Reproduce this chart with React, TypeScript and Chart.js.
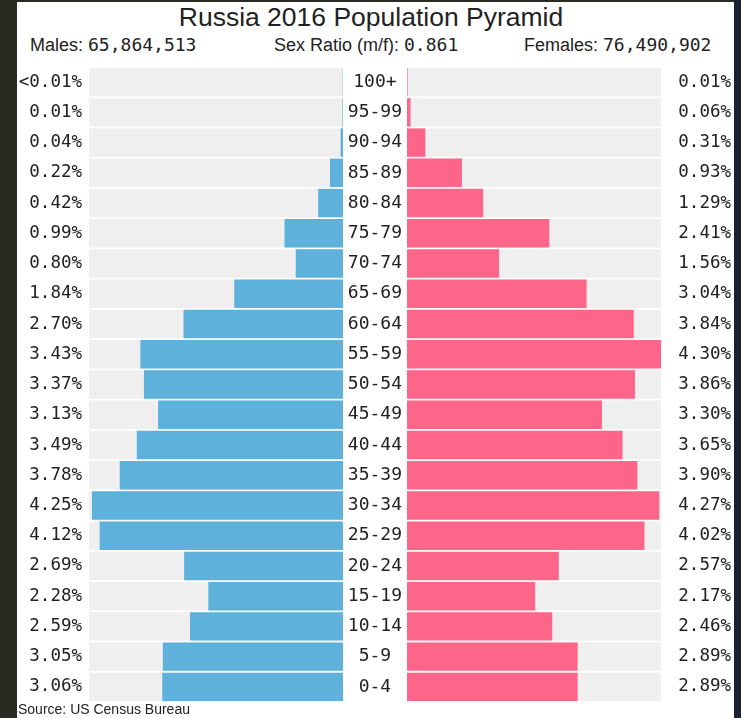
import React, { useEffect, useRef } from "react";
import { Chart, registerables } from "chart.js";

Chart.register(...registerables);

const ageGroups = ["100+", "95-99", "90-94", "85-89", "80-84", "75-79", "70-74", "65-69", "60-64", "55-59", "50-54", "45-49", "40-44", "35-39", "30-34", "25-29", "20-24", "15-19", "10-14", "5-9", "0-4"];
const malePct = [0.004, 0.01, 0.04, 0.22, 0.42, 0.99, 0.8, 1.84, 2.7, 3.43, 3.37, 3.13, 3.49, 3.78, 4.25, 4.12, 2.69, 2.28, 2.59, 3.05, 3.06];
const femalePct = [0.01, 0.06, 0.31, 0.93, 1.29, 2.41, 1.56, 3.04, 3.84, 4.3, 3.86, 3.3, 3.65, 3.9, 4.27, 4.02, 2.57, 2.17, 2.46, 2.89, 2.89];
const axisMaxPct = 4.3;
const malesTotal = "65,864,513";
const femalesTotal = "76,490,902";
const sexRatio = "0.861";

const fmt = (v: number) => (v < 0.01 ? "<0.01%" : v.toFixed(2) + "%");
const maleLabels = malePct.map(fmt);
const femaleLabels = femalePct.map(fmt);

const MONO = "'DejaVu Sans Mono', monospace";
const SANS = "'Liberation Sans', Arial, sans-serif";
const BLUE = "#5db1da";
const PINK = "#fe6689";
const TRACK = "#efefef";
const TEXT = "#222222";

const trackPlugin = {
  id: "track",
  beforeDatasetsDraw(chart: any) {
    const { ctx, chartArea } = chart;
    const meta = chart.getDatasetMeta(0);
    ctx.save();
    ctx.fillStyle = TRACK;
    meta.data.forEach((bar: any) => {
      const { y, height } = bar.getProps(["y", "height"], true);
      ctx.fillRect(chartArea.left, y - height / 2, chartArea.right - chartArea.left, height);
    });
    ctx.restore();
  },
};

const tickFont = { family: MONO, size: 17.5 };

const fitWidth = (w: number) => (s: any) => {
  s.width = w;
  s.paddingTop = 0;
  s.paddingBottom = 0;
};

export default function App() {
  const leftRef = useRef<HTMLCanvasElement>(null);
  const rightRef = useRef<HTMLCanvasElement>(null);

  useEffect(() => {
    const common: any = {
      animation: false,
      responsive: false,
      maintainAspectRatio: false,
      indexAxis: "y",
      layout: { padding: 0 },
      plugins: { legend: { display: false }, tooltip: { enabled: false } },
    };

    const left = new Chart(leftRef.current!, {
      type: "bar",
      data: {
        labels: ageGroups,
        datasets: [
          {
            data: malePct,
            backgroundColor: BLUE,
            borderWidth: 0,
            barPercentage: 0.94,
            categoryPercentage: 1,
          },
        ],
      },
      options: {
        ...common,
        scales: {
          x: { min: 0, max: axisMaxPct, reverse: true, display: false },
          y: {
            type: "category",
            position: "left",
            grid: { display: false, drawTicks: false },
            border: { display: false },
            ticks: {
              padding: 7,
              color: TEXT,
              font: tickFont,
              callback: (_v: any, i: number) => maleLabels[i],
            },
            afterFit: fitWidth(72),
          },
        },
      },
      plugins: [trackPlugin],
    } as any);

    const right = new Chart(rightRef.current!, {
      type: "bar",
      data: {
        labels: ageGroups,
        datasets: [
          {
            data: femalePct,
            backgroundColor: PINK,
            borderWidth: 0,
            barPercentage: 0.94,
            categoryPercentage: 1,
          },
        ],
      },
      options: {
        ...common,
        layout: { padding: { right: 3 } },
        scales: {
          x: { min: 0, max: axisMaxPct, display: false },
          y: {
            type: "category",
            position: "left",
            grid: { display: false, drawTicks: false },
            border: { display: false },
            ticks: {
              padding: 5,
              crossAlign: "center",
              color: TEXT,
              font: { family: MONO, size: 18 },
            },
            afterFit: fitWidth(64),
          },
          y2: {
            type: "category",
            labels: femaleLabels,
            position: "right",
            offset: true,
            grid: { display: false, drawTicks: false },
            border: { display: false },
            ticks: {
              padding: 0,
              crossAlign: "far",
              color: TEXT,
              font: tickFont,
            },
            afterFit: fitWidth(70),
          },
        },
      },
      plugins: [trackPlugin],
    } as any);

    return () => {
      left.destroy();
      right.destroy();
    };
  }, []);

  const abs = (o: React.CSSProperties): React.CSSProperties => ({ position: "absolute", whiteSpace: "nowrap", ...o });

  return (
    <div style={{ position: "absolute", left: 0, top: 0, width: 741, height: 718, background: "#2a2922", overflow: "hidden" }}>
      <div style={abs({ left: 734, top: 0, width: 7, height: 718, background: "#1b2132" })} />
      <div style={abs({ left: 17, top: 2, width: 717, height: 716, background: "#ffffff" })} />
      <div style={abs({ left: 17, width: 708, top: 4, textAlign: "center", fontFamily: SANS, fontSize: 26.5, lineHeight: "26px", color: TEXT })}>
        Russia 2016 Population Pyramid
      </div>
      <div style={abs({ left: 30, top: 36, fontFamily: SANS, fontSize: 18, lineHeight: "18px", color: TEXT })}>
        Males: <span style={{ fontFamily: MONO }}>{malesTotal}</span>
      </div>
      <div style={abs({ left: 274, top: 36, fontFamily: SANS, fontSize: 18, lineHeight: "18px", color: TEXT })}>
        Sex Ratio (m/f): <span style={{ fontFamily: MONO }}>{sexRatio}</span>
      </div>
      <div style={abs({ left: 524, top: 36, fontFamily: SANS, fontSize: 18, lineHeight: "18px", color: TEXT })}>
        Females: <span style={{ fontFamily: MONO }}>{femalesTotal}</span>
      </div>
      <canvas ref={leftRef} width={326} height={635} style={abs({ left: 17, top: 67, width: 326, height: 635 })} />
      <canvas ref={rightRef} width={391} height={635} style={abs({ left: 343, top: 67, width: 391, height: 635 })} />
      <div style={abs({ left: 18, top: 702, fontFamily: SANS, fontSize: 14, lineHeight: "14px", color: TEXT })}>
        Source: US Census Bureau
      </div>
    </div>
  );
}
